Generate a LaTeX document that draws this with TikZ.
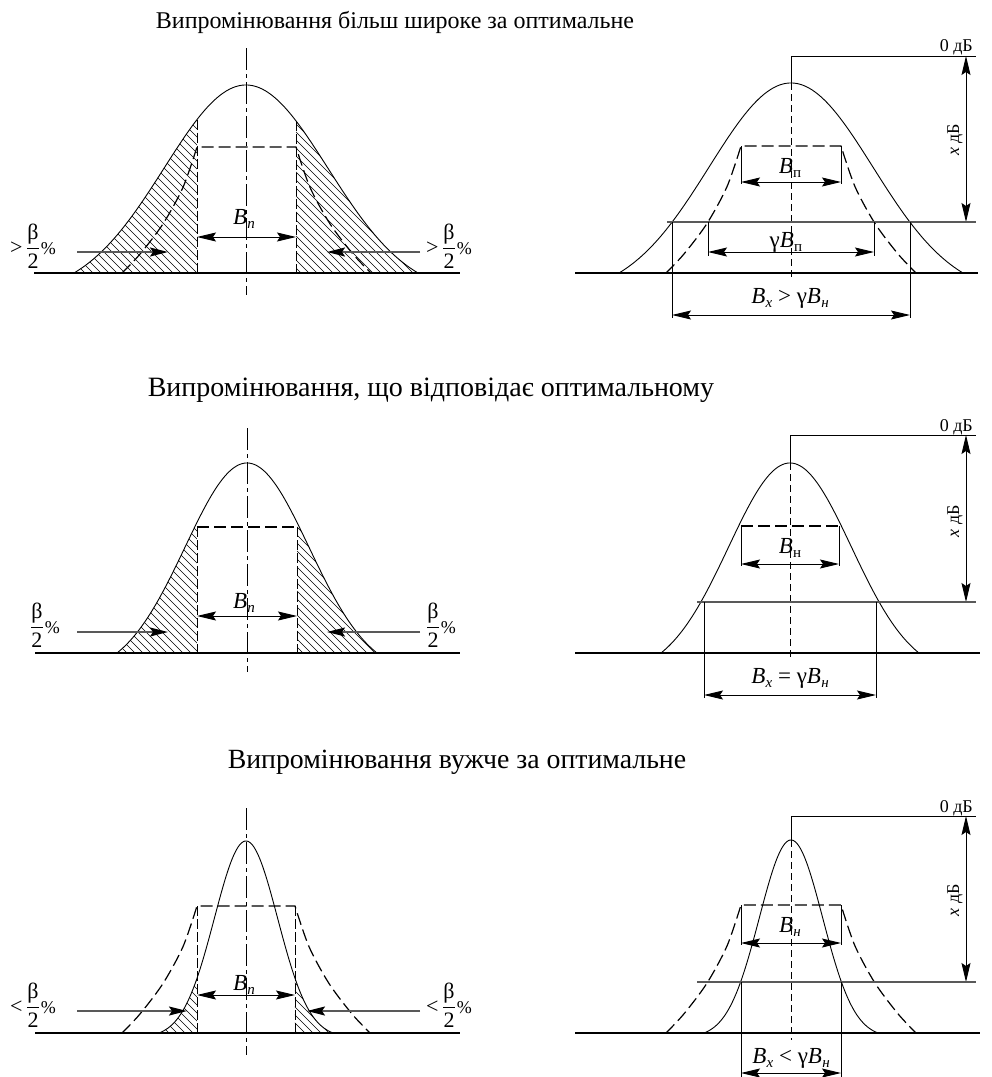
\documentclass[tikz,border=0pt]{standalone}
\usepackage{amsmath}
\usepackage{fontspec}
\setmainfont{Liberation Serif}
\usetikzlibrary{arrows.meta}

\pgfmathdeclarefunction{gf}{2}{%
  \begingroup
  \pgfmathparse{(exp(-0.5*#2*#2*#1*#1)-exp(-0.5*#2*#2))/(1-exp(-0.5*#2*#2))}%
  \pgfmathsmuggle\pgfmathresult
  \endgroup}

% full bell curve: cx, base, H, W, k
\newcommand{\gpath}[5]{plot[domain=-1:1,samples=161,variable=\uu] ({#1+#4*\uu},{#2-#3*gf(\uu,#5)})}
% part of bell curve: cx, base, H, W, k, u0, u1
\newcommand{\gpart}[7]{plot[domain=#6:#7,samples=80,variable=\uu] ({#1+#4*\uu},{#2-#3*gf(\uu,#5)})}
% ideal mask: xL, xR, ytop, depth
\newcommand{\maskpath}[4]{plot[smooth] coordinates {({#1-75},{#3+#4}) ({#1-57},{#3+0.85*#4}) ({#1-34},{#3+0.61*#4}) ({#1-14},{#3+0.32*#4}) (#1,#3)}
  -- plot[smooth] coordinates {(#2,#3) ({#2+14},{#3+0.32*#4}) ({#2+34},{#3+0.61*#4}) ({#2+57},{#3+0.85*#4}) ({#2+75},{#3+#4})}}
% hatch lines between two heights (used inside a clip)
\newcommand{\hatchlines}[2]{\foreach \c in {-300,-292,...,700} \draw[hatch] ({\c},#1) -- ({\c+#2-#1},#2);}
\newcommand{\Bs}[1]{\textit{B}\kern0.3pt\raisebox{-4pt}{\fontsize{15}{15}\selectfont #1}}
\newcommand{\bhalf}[1]{#1$\genfrac{}{}{0.7pt}{0}{\text{β}}{\text{2}}$\kern1pt{\fontsize{18}{18}\selectfont\%}}

\tikzset{
  ln/.style={line width=0.9pt},
  baseln/.style={line width=1.3pt},
  curve/.style={line width=0.9pt},
  gline/.style={line width=1.8pt, draw=black!65},
  mask/.style={line width=1.2pt, dash pattern=on 12pt off 5pt},
  vdash/.style={line width=0.8pt, dash pattern=on 10pt off 3pt},
  axisdd/.style={line width=0.8pt, dash pattern=on 22pt off 4pt on 4pt off 4pt},
  axisd/.style={line width=1pt, dash pattern=on 7pt off 4pt},
  dim/.style={line width=0.9pt, {Stealth[length=19pt,width=9pt,inset=3pt]}-{Stealth[length=19pt,width=9pt,inset=3pt]}},
  parr/.style={line width=1.8pt, draw=black!65, -{Stealth[length=18pt,width=9pt,inset=3pt,color=black]}},
  hatch/.style={line width=0.6pt},
  lab/.style={font=\fontsize{23}{25}\selectfont, inner sep=0pt, anchor=base},
  frl/.style={font=\fontsize{22}{24}\selectfont, inner sep=0pt, anchor=base west},
  ttl/.style={inner sep=0pt, anchor=base},
  db/.style={font=\fontsize{18}{20}\selectfont, inner sep=0pt},
}

\begin{document}
\begin{tikzpicture}[x=1pt,y=-1pt]
\useasboundingbox (0,0) rectangle (992,1077);
\fill[white] (0,0) rectangle (992,1077);

% ---------- titles ----------
\node[ttl,font=\fontsize{24}{28}\selectfont] (t1) at (395,28) {Випромінювання більш широке за оптимальне};
\node[ttl,font=\fontsize{28}{32}\selectfont] (t2) at (431,396) {Випромінювання, що відповідає оптимальному};
\node[ttl,font=\fontsize{27.8}{32}\selectfont] (t3) at (457,768) {Випромінювання вужче за оптимальне};

% ================= TOP LEFT =================
\begin{scope}
\clip \gpart{246}{273}{188}{172}{2.1}{-1}{-0.285} -- (197,273) -- cycle;
\hatchlines{80}{280}
\end{scope}
\begin{scope}
\clip \gpart{246}{273}{188}{172}{2.1}{0.291}{1} -- (296,273) -- cycle;
\hatchlines{80}{280}
\end{scope}
\draw[baseln] (34,273) -- (460,273);
\draw[curve] \gpath{246}{273}{188}{172}{2.1};
\draw[axisdd] (246,48) -- (246,295);
\draw[mask] \maskpath{197}{296}{147}{126};
\draw[vdash] (197,{273-188*gf(-0.285,2.1)}) -- (197,273);
\draw[vdash] (296,{273-188*gf(0.291,2.1)}) -- (296,273);
\draw[dim] (197,237) -- (296,237);
\node[lab] (tlB) at (244,224) {\Bs{\textit{п}}};
\draw[parr] (77,252) -- (168,252);
\draw[parr] (420,252) -- (327,252);
\node[frl] (tlfl) at (10,254) {\bhalf{>\,}};
\node[frl] (tlfr) at (426,254) {\bhalf{>\,}};

% ================= TOP RIGHT =================
\draw[baseln] (575,273) -- (978,273);
\draw[curve] \gpath{791}{273}{190}{172}{2.1};
\draw[mask] \maskpath{741}{841}{146}{127};
\draw[ln] (791,56) -- (791,83);
\draw[axisd] (791,83) -- (791,280);
\draw[ln] (791,56) -- (976,56);
\node[db,anchor=base east] (tr0) at (973,51) {0 дБ};
\draw[dim] (966,56) -- (966,222);
\node[db,rotate=90] (trx) at (955,140) {\textit{x} дБ};
\draw[gline] (667,222) -- (976,222);
\draw[ln] (672,222) -- (672,318);
\draw[ln] (910,222) -- (910,318);
\draw[dim] (672,315) -- (910,315);
\draw[ln] (708,222) -- (708,256);
\draw[ln] (874,222) -- (874,256);
\draw[dim] (708,252) -- (874,252);
\draw[ln] (741,146) -- (741,184);
\draw[ln] (841,146) -- (841,184);
\draw[dim] (741,182) -- (841,182);
\node[lab] (trB1) at (790,173) {\Bs{п}};
\node[lab] (trB2) at (786,247) {γ\Bs{п}};
\node[lab] (trB3) at (790,303) {\Bs{\textit{x}} > γ\Bs{\textit{н}}};

% ================= MIDDLE LEFT =================
\begin{scope}
\clip \gpart{247}{653}{190}{130}{2.1}{-1}{-0.385} -- (197,653) -- cycle;
\hatchlines{450}{660}
\end{scope}
\begin{scope}
\clip \gpart{247}{653}{190}{130}{2.1}{0.385}{1} -- (297,653) -- cycle;
\hatchlines{450}{660}
\end{scope}
\draw[baseln] (35,653) -- (460,653);
\draw[curve] \gpath{247}{653}{190}{130}{2.1};
\draw[axisdd] (247,428) -- (247,672);
\draw[mask] (197,527) -- (297,527);
\draw[vdash] (197,527) -- (197,653);
\draw[vdash] (297,527) -- (297,653);
\draw[dim] (197,616) -- (297,616);
\node[lab] (mlB) at (244,608) {\Bs{\textit{п}}};
\draw[parr] (77,632) -- (168,632);
\draw[parr] (420,632) -- (327,632);
\node[frl] (mlfl) at (30,633) {\bhalf{}};
\node[frl] (mlfr) at (426,633) {\bhalf{}};

% ================= MIDDLE RIGHT =================
\draw[baseln] (575,653) -- (980,653);
\draw[curve] \gpath{790}{653}{190}{129}{2.1};
\draw[ln] (790,435) -- (790,463);
\draw[axisd] (790,463) -- (790,660);
\draw[ln] (790,435) -- (976,435);
\node[db,anchor=base east] (mr0) at (973,431) {0 дБ};
\draw[dim] (966,435) -- (966,602);
\node[db,rotate=90] (mrx) at (955,521) {\textit{x} дБ};
\draw[gline] (697,602) -- (976,602);
\draw[ln] (704,602) -- (704,698);
\draw[ln] (876,602) -- (876,698);
\draw[dim] (704,695) -- (876,695);
\draw[mask] (741,526) -- (839,526);
\draw[ln] (741,526) -- (741,566);
\draw[ln] (839,526) -- (839,566);
\draw[dim] (741,564) -- (839,564);
\node[lab] (mrB1) at (790,553) {\Bs{н}};
\node[lab] (mrB2) at (790,683) {\Bs{\textit{x}} = γ\Bs{\textit{н}}};

% ================= BOTTOM LEFT =================
\begin{scope}
\clip \gpart{246}{1033}{192}{87}{2.75}{-1}{-0.563} -- (197,1033) -- cycle;
\hatchlines{900}{1040}
\end{scope}
\begin{scope}
\clip \gpart{246}{1033}{192}{87}{2.75}{0.563}{1} -- (295,1033) -- cycle;
\hatchlines{900}{1040}
\end{scope}
\draw[baseln] (35,1033) -- (460,1033);
\draw[curve] \gpath{246}{1033}{192}{87}{2.75};
\draw[mask] \maskpath{197}{295}{906}{127};
\draw[axisdd] (246,808) -- (246,1055);
\draw[vdash] (197,906) -- (197,1033);
\draw[vdash] (295,906) -- (295,1033);
\draw[dim] (197,995) -- (295,995);
\node[lab] (blB) at (244,990) {\Bs{\textit{п}}};
\draw[parr] (77,1011) -- (187,1011);
\draw[parr] (420,1011) -- (307,1011);
\node[frl] (blfl) at (10,1013) {\bhalf{<\,}};
\node[frl] (blfr) at (426,1013) {\bhalf{<\,}};

% ================= BOTTOM RIGHT =================
\draw[baseln] (575,1033) -- (980,1033);
\draw[curve] \gpath{791}{1033}{193}{87}{2.75};
\draw[mask] \maskpath{741}{841}{905}{128};
\draw[ln] (791,816) -- (791,840);
\draw[axisd] (791,840) -- (791,1040);
\draw[ln] (791,816) -- (976,816);
\node[db,anchor=base east] (br0) at (973,812) {0 дБ};
\draw[dim] (966,816) -- (966,982);
\node[db,rotate=90] (brx) at (955,900) {\textit{x} дБ};
\draw[gline] (697,982) -- (976,982);
\draw[ln] (741,982) -- (741,1077);
\draw[ln] (841,982) -- (841,1077);
\draw[dim] (741,1073) -- (841,1073);
\draw[ln] (741,905) -- (741,945);
\draw[ln] (841,905) -- (841,945);
\draw[dim] (741,943) -- (841,943);
\node[lab] (brB1) at (790,932) {\Bs{\textit{н}}};
\node[lab] (brB2) at (791,1063) {\Bs{\textit{x}} < γ\Bs{\textit{н}}};
\end{tikzpicture}
\end{document}
